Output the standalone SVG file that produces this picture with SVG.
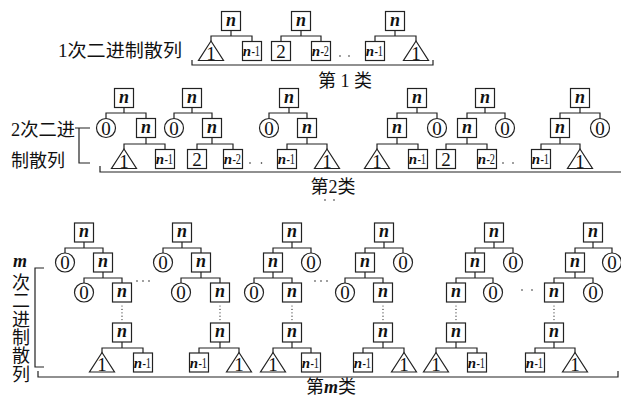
<svg xmlns="http://www.w3.org/2000/svg" width="621" height="398" viewBox="0 0 621 398">
<style>
.b{fill:#fff;stroke:#222;stroke-width:1.2}
.ln{fill:none;stroke:#222;stroke-width:1.2}
.dt{fill:none;stroke:#222;stroke-width:1.6;stroke-linecap:round}
.vd{fill:none;stroke:#222;stroke-width:1.2;stroke-linecap:round;stroke-dasharray:0 3.4}
text{font-family:"Liberation Serif","Noto Sans CJK SC",serif;fill:#111;text-anchor:middle}
.n{font-size:18px;font-style:italic;font-weight:bold}
.d{font-size:19px}
.mn{font-size:15px;font-style:italic;font-weight:bold;text-anchor:end}
.mk{font-size:15px;text-anchor:start}
.lab{font-size:18px;text-anchor:start}
.cap{font-size:18px}
.vt{font-size:18px;writing-mode:vertical-rl;text-anchor:start}
</style>
<rect width="621" height="398" fill="#fff"/>
<defs>
<rect id="bx" class="b" x="-9.5" y="-9.5" width="19" height="19"/>
<circle id="ci" class="b" r="9.5"/>
<polygon id="tr" class="b" points="0,-10 12.5,9.5 -12.5,9.5"/>
</defs>

<!-- labels -->
<g id="labels">
<text class="lab" x="58" y="57" textLength="124" lengthAdjust="spacingAndGlyphs">1次二进制散列</text>
<text class="cap" x="345" y="87">第 1 类</text>
<text class="lab" x="11" y="136" textLength="64" lengthAdjust="spacingAndGlyphs">2次二进</text>
<text class="lab" x="11" y="167">制散列</text>
<text class="cap" x="333" y="193">第2类</text>
<text class="n" x="20" y="267">m</text>
<text class="vt" x="19" y="273" letter-spacing="0.4">次二进制散列</text>
<text class="cap" x="331" y="393" font-size="17">第<tspan font-style="italic" font-weight="bold">m</tspan>类</text>
</g>

<!-- connectors -->
<g id="connectors">
<path class="ln" d="M231,30.5V36M211,41.5V36H252V41.5 M301,30.5V36M281,41.5V36H321V41.5 M395,30.5V36M375,41.5V36H416V41.5"/>
<path class="ln" d="M192,60V65H433V60"/>
<path class="ln" d="M124,107.5V113M106,118.5V113H146V118.5M146,137.5V144M124,149.5V144H165V149.5
M192,107.5V113M174,118.5V113H212V118.5M212,137.5V144M197,149.5V144H233V149.5
M289,107.5V113M269,118.5V113H307V118.5M307,137.5V144M287,149.5V144H327V149.5
M417,107.5V113M397,118.5V113H437V118.5M397,137.5V144M377,149.5V144H418V149.5
M485,107.5V113M467,118.5V113H505V118.5M467,137.5V144M446,149.5V144H487V149.5
M580,107.5V113M560,118.5V113H600V118.5M560,137.5V144M541,149.5V144H580V149.5"/>
<path class="ln" d="M75,128H90M79,128V163H90"/>
<path class="ln" d="M100,166V172H621"/>
<path class="ln" d="M84,242V248M65,253V248H103V253M103,272V278M84,283V278H122V283M122,342V348M102,353V348H143V353
M182,242V248M163,253V248H201V253M201,272V278M181,283V278H220V283M220,342V348M199,353V348H239V353
M292,242V248M273,253V248H311V253M273,272V278M254,283V278H292V283M292,342V348M273,353V348H311V353
M384,242V248M365,253V248H403V253M365,272V278M345,283V278H383V283M383,342V348M363,353V348H404V353
M494,242V248M475,253V248H513V253M475,272V278M456,283V278H493V283M456,342V348M436,353V348H477V353
M593,242V248M575,253V248H612V253M575,272V278M554,283V278H593V283M554,342V348M535,353V348H575V353"/>
<path class="vd" d="M122,306V320M220,306V320M292,306V320M383,306V320M456,306V320M554,306V320"/>
<path class="ln" d="M44,268H35V367H44"/>
<path class="ln" d="M38,371V377H618V371"/>
<path class="dt" stroke-dasharray="0 9" d="M340,56H358"/>
<path class="dt" stroke-dasharray="0 11.5" d="M250,163H273"/>
<path class="dt" stroke-dasharray="0 10" d="M503,163H523"/>
<path class="dt" stroke-dasharray="0 9" d="M325,200H343"/>
<path class="dt" stroke-dasharray="0 6" d="M137,281H155"/>
<path class="dt" stroke-dasharray="0 6" d="M315,281H333"/>
<path class="dt" stroke-dasharray="0 10" d="M522,290H542"/>
</g>

<!-- section 1 -->
<g id="s1a0" transform="translate(231,21)"><use href="#bx"/><text class="n" y="4.5">n</text></g>
<g id="s1a1" transform="translate(211,51)"><use href="#tr"/><text class="d" y="8.5">1</text></g>
<g id="s1a2" transform="translate(252,51)"><use href="#bx"/><text class="mn" x="-0.8" y="5">n</text><text class="mk" x="-0.6" y="5" textLength="8.6" lengthAdjust="spacingAndGlyphs">-1</text></g>
<g id="s1b0" transform="translate(301,21)"><use href="#bx"/><text class="n" y="4.5">n</text></g>
<g id="s1b1" transform="translate(281,51)"><use href="#bx"/><text class="d" y="6.5">2</text></g>
<g id="s1b2" transform="translate(321,51)"><use href="#bx"/><text class="mn" x="-0.8" y="5">n</text><text class="mk" x="-0.6" y="5" textLength="8.6" lengthAdjust="spacingAndGlyphs">-2</text></g>
<g id="s1c0" transform="translate(395,21)"><use href="#bx"/><text class="n" y="4.5">n</text></g>
<g id="s1c1" transform="translate(375,51)"><use href="#bx"/><text class="mn" x="-0.8" y="5">n</text><text class="mk" x="-0.6" y="5" textLength="8.6" lengthAdjust="spacingAndGlyphs">-1</text></g>
<g id="s1c2" transform="translate(416,51)"><use href="#tr"/><text class="d" y="8.5">1</text></g>

<!-- section 2 -->
<g id="s2t1a" transform="translate(124,98)"><use href="#bx"/><text class="n" y="4.5">n</text></g>
<g id="s2t1b" transform="translate(106,128)"><use href="#ci"/><text class="d" y="6.5">0</text></g>
<g id="s2t1c" transform="translate(146,128)"><use href="#bx"/><text class="n" y="4.5">n</text></g>
<g id="s2t1d" transform="translate(124,159)"><use href="#tr"/><text class="d" y="8.5">1</text></g>
<g id="s2t1e" transform="translate(165,159)"><use href="#bx"/><text class="mn" x="-0.8" y="5">n</text><text class="mk" x="-0.6" y="5" textLength="8.6" lengthAdjust="spacingAndGlyphs">-1</text></g>

<g id="s2t2a" transform="translate(192,98)"><use href="#bx"/><text class="n" y="4.5">n</text></g>
<g id="s2t2b" transform="translate(174,128)"><use href="#ci"/><text class="d" y="6.5">0</text></g>
<g id="s2t2c" transform="translate(212,128)"><use href="#bx"/><text class="n" y="4.5">n</text></g>
<g id="s2t2d" transform="translate(197,159)"><use href="#bx"/><text class="d" y="6.5">2</text></g>
<g id="s2t2e" transform="translate(233,159)"><use href="#bx"/><text class="mn" x="-0.8" y="5">n</text><text class="mk" x="-0.6" y="5" textLength="8.6" lengthAdjust="spacingAndGlyphs">-2</text></g>

<g id="s2t3a" transform="translate(289,98)"><use href="#bx"/><text class="n" y="4.5">n</text></g>
<g id="s2t3b" transform="translate(269,128)"><use href="#ci"/><text class="d" y="6.5">0</text></g>
<g id="s2t3c" transform="translate(307,128)"><use href="#bx"/><text class="n" y="4.5">n</text></g>
<g id="s2t3d" transform="translate(287,159)"><use href="#bx"/><text class="mn" x="-0.8" y="5">n</text><text class="mk" x="-0.6" y="5" textLength="8.6" lengthAdjust="spacingAndGlyphs">-1</text></g>
<g id="s2t3e" transform="translate(327,159)"><use href="#tr"/><text class="d" y="8.5">1</text></g>

<g id="s2t4a" transform="translate(417,98)"><use href="#bx"/><text class="n" y="4.5">n</text></g>
<g id="s2t4b" transform="translate(397,128)"><use href="#bx"/><text class="n" y="4.5">n</text></g>
<g id="s2t4c" transform="translate(437,128)"><use href="#ci"/><text class="d" y="6.5">0</text></g>
<g id="s2t4d" transform="translate(377,159)"><use href="#tr"/><text class="d" y="8.5">1</text></g>
<g id="s2t4e" transform="translate(418,159)"><use href="#bx"/><text class="mn" x="-0.8" y="5">n</text><text class="mk" x="-0.6" y="5" textLength="8.6" lengthAdjust="spacingAndGlyphs">-1</text></g>

<g id="s2t5a" transform="translate(485,98)"><use href="#bx"/><text class="n" y="4.5">n</text></g>
<g id="s2t5b" transform="translate(467,128)"><use href="#bx"/><text class="n" y="4.5">n</text></g>
<g id="s2t5c" transform="translate(505,128)"><use href="#ci"/><text class="d" y="6.5">0</text></g>
<g id="s2t5d" transform="translate(446,159)"><use href="#bx"/><text class="d" y="6.5">2</text></g>
<g id="s2t5e" transform="translate(487,159)"><use href="#bx"/><text class="mn" x="-0.8" y="5">n</text><text class="mk" x="-0.6" y="5" textLength="8.6" lengthAdjust="spacingAndGlyphs">-2</text></g>

<g id="s2t6a" transform="translate(580,98)"><use href="#bx"/><text class="n" y="4.5">n</text></g>
<g id="s2t6b" transform="translate(560,128)"><use href="#bx"/><text class="n" y="4.5">n</text></g>
<g id="s2t6c" transform="translate(600,128)"><use href="#ci"/><text class="d" y="6.5">0</text></g>
<g id="s2t6d" transform="translate(541,159)"><use href="#bx"/><text class="mn" x="-0.8" y="5">n</text><text class="mk" x="-0.6" y="5" textLength="8.6" lengthAdjust="spacingAndGlyphs">-1</text></g>
<g id="s2t6e" transform="translate(580,159)"><use href="#tr"/><text class="d" y="8.5">1</text></g>

<!-- section 3 -->
<g id="s3A1" transform="translate(84,232.5)"><use href="#bx"/><text class="n" y="4.5">n</text></g>
<g id="s3A2" transform="translate(65,262.5)"><use href="#ci"/><text class="d" y="6.5">0</text></g>
<g id="s3A3" transform="translate(103,262.5)"><use href="#bx"/><text class="n" y="4.5">n</text></g>
<g id="s3A4" transform="translate(84,292.5)"><use href="#ci"/><text class="d" y="6.5">0</text></g>
<g id="s3A5" transform="translate(122,292.5)"><use href="#bx"/><text class="n" y="4.5">n</text></g>
<g id="s3A6" transform="translate(122,332.5)"><use href="#bx"/><text class="n" y="4.5">n</text></g>
<g id="s3A7" transform="translate(102,362.5)"><use href="#tr"/><text class="d" y="8.5">1</text></g>
<g id="s3A8" transform="translate(143,362.5)"><use href="#bx"/><text class="mn" x="-0.8" y="5">n</text><text class="mk" x="-0.6" y="5" textLength="8.6" lengthAdjust="spacingAndGlyphs">-1</text></g>

<g id="s3B1" transform="translate(182,232.5)"><use href="#bx"/><text class="n" y="4.5">n</text></g>
<g id="s3B2" transform="translate(163,262.5)"><use href="#ci"/><text class="d" y="6.5">0</text></g>
<g id="s3B3" transform="translate(201,262.5)"><use href="#bx"/><text class="n" y="4.5">n</text></g>
<g id="s3B4" transform="translate(181,292.5)"><use href="#ci"/><text class="d" y="6.5">0</text></g>
<g id="s3B5" transform="translate(220,292.5)"><use href="#bx"/><text class="n" y="4.5">n</text></g>
<g id="s3B6" transform="translate(220,332.5)"><use href="#bx"/><text class="n" y="4.5">n</text></g>
<g id="s3B7" transform="translate(199,362.5)"><use href="#bx"/><text class="mn" x="-0.8" y="5">n</text><text class="mk" x="-0.6" y="5" textLength="8.6" lengthAdjust="spacingAndGlyphs">-1</text></g>
<g id="s3B8" transform="translate(239,362.5)"><use href="#tr"/><text class="d" y="8.5">1</text></g>

<g id="s3C1" transform="translate(292,232.5)"><use href="#bx"/><text class="n" y="4.5">n</text></g>
<g id="s3C2" transform="translate(273,262.5)"><use href="#bx"/><text class="n" y="4.5">n</text></g>
<g id="s3C3" transform="translate(311,262.5)"><use href="#ci"/><text class="d" y="6.5">0</text></g>
<g id="s3C4" transform="translate(254,292.5)"><use href="#ci"/><text class="d" y="6.5">0</text></g>
<g id="s3C5" transform="translate(292,292.5)"><use href="#bx"/><text class="n" y="4.5">n</text></g>
<g id="s3C6" transform="translate(292,332.5)"><use href="#bx"/><text class="n" y="4.5">n</text></g>
<g id="s3C7" transform="translate(273,362.5)"><use href="#tr"/><text class="d" y="8.5">1</text></g>
<g id="s3C8" transform="translate(311,362.5)"><use href="#bx"/><text class="mn" x="-0.8" y="5">n</text><text class="mk" x="-0.6" y="5" textLength="8.6" lengthAdjust="spacingAndGlyphs">-1</text></g>

<g id="s3D1" transform="translate(384,232.5)"><use href="#bx"/><text class="n" y="4.5">n</text></g>
<g id="s3D2" transform="translate(365,262.5)"><use href="#bx"/><text class="n" y="4.5">n</text></g>
<g id="s3D3" transform="translate(403,262.5)"><use href="#ci"/><text class="d" y="6.5">0</text></g>
<g id="s3D4" transform="translate(345,292.5)"><use href="#ci"/><text class="d" y="6.5">0</text></g>
<g id="s3D5" transform="translate(383,292.5)"><use href="#bx"/><text class="n" y="4.5">n</text></g>
<g id="s3D6" transform="translate(383,332.5)"><use href="#bx"/><text class="n" y="4.5">n</text></g>
<g id="s3D7" transform="translate(363,362.5)"><use href="#bx"/><text class="mn" x="-0.8" y="5">n</text><text class="mk" x="-0.6" y="5" textLength="8.6" lengthAdjust="spacingAndGlyphs">-1</text></g>
<g id="s3D8" transform="translate(404,362.5)"><use href="#tr"/><text class="d" y="8.5">1</text></g>

<g id="s3E1" transform="translate(494,232.5)"><use href="#bx"/><text class="n" y="4.5">n</text></g>
<g id="s3E2" transform="translate(475,262.5)"><use href="#bx"/><text class="n" y="4.5">n</text></g>
<g id="s3E3" transform="translate(513,262.5)"><use href="#ci"/><text class="d" y="6.5">0</text></g>
<g id="s3E4" transform="translate(456,292.5)"><use href="#bx"/><text class="n" y="4.5">n</text></g>
<g id="s3E5" transform="translate(493,292.5)"><use href="#ci"/><text class="d" y="6.5">0</text></g>
<g id="s3E6" transform="translate(456,332.5)"><use href="#bx"/><text class="n" y="4.5">n</text></g>
<g id="s3E7" transform="translate(436,362.5)"><use href="#tr"/><text class="d" y="8.5">1</text></g>
<g id="s3E8" transform="translate(477,362.5)"><use href="#bx"/><text class="mn" x="-0.8" y="5">n</text><text class="mk" x="-0.6" y="5" textLength="8.6" lengthAdjust="spacingAndGlyphs">-1</text></g>

<g id="s3F1" transform="translate(593,232.5)"><use href="#bx"/><text class="n" y="4.5">n</text></g>
<g id="s3F2" transform="translate(575,262.5)"><use href="#bx"/><text class="n" y="4.5">n</text></g>
<g id="s3F3" transform="translate(612,262.5)"><use href="#ci"/><text class="d" y="6.5">0</text></g>
<g id="s3F4" transform="translate(554,292.5)"><use href="#bx"/><text class="n" y="4.5">n</text></g>
<g id="s3F5" transform="translate(593,292.5)"><use href="#ci"/><text class="d" y="6.5">0</text></g>
<g id="s3F6" transform="translate(554,332.5)"><use href="#bx"/><text class="n" y="4.5">n</text></g>
<g id="s3F7" transform="translate(535,362.5)"><use href="#bx"/><text class="mn" x="-0.8" y="5">n</text><text class="mk" x="-0.6" y="5" textLength="8.6" lengthAdjust="spacingAndGlyphs">-1</text></g>
<g id="s3F8" transform="translate(575,362.5)"><use href="#tr"/><text class="d" y="8.5">1</text></g>
</svg>
